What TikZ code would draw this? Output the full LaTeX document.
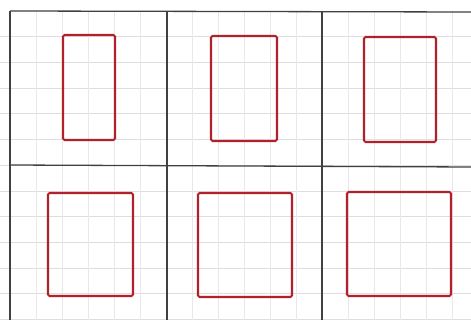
\documentclass[tikz,border=0pt]{standalone}
\definecolor{penred}{RGB}{178,32,44}
\begin{document}
\begin{tikzpicture}[x=1pt,y=-1pt,
  gridline/.style={draw=black!13,line width=0.6pt},
  vgridline/.style={draw=black!9,line width=0.6pt},
  frameline/.style={draw=black!75,line width=1.3pt},
  redbox/.style={draw=penred,line width=2.1pt,rounded corners=1.5pt}]
\useasboundingbox (0,0) rectangle (471,320);
\fill[white] (0,0) rectangle (471,320);
% light grid
\foreach \k in {1,...,12} \draw[gridline] (0,{11+25.7*\k}) -- (471,{11+25.7*\k});
\foreach \k in {1,...,17} \draw[vgridline] ({10+26*\k},11) -- ({10+26*\k},320);
% thick frame lines
\draw[frameline] (10,11) -- (471,12);
\draw[frameline] (10,165) -- (471,167);
\draw[frameline] (10,11) -- (10,320);
\draw[frameline] (167,11) -- (167,320);
\draw[frameline] (322,12) -- (322,320);
% red rectangles
\draw[redbox] (63,35) rectangle (115,140);
\draw[redbox] (211,36) rectangle (277,141);
\draw[redbox] (364,37) rectangle (436,142);
\draw[redbox] (48,193) rectangle (133,296);
\draw[redbox] (198,193) rectangle (292,297);
\draw[redbox] (347,192) rectangle (451,296);
\end{tikzpicture}
\end{document}
